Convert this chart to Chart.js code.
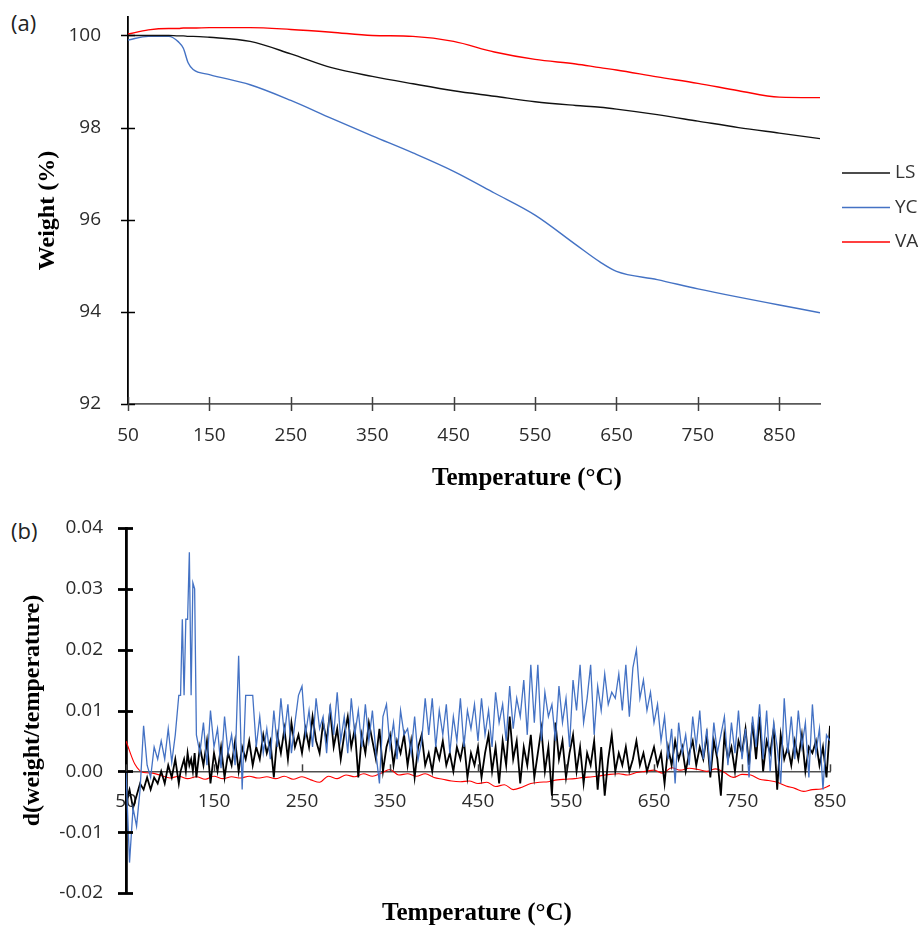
<!DOCTYPE html>
<html>
<head>
<meta charset="utf-8">
<script src="https://cdn.jsdelivr.net/npm/chart.js@4.4.0/dist/chart.umd.min.js"></script>
<style>
body { margin: 0; background: #fff; width: 924px; height: 927px; position: relative; overflow: hidden; }
canvas { position: absolute; left: 0; }
#chartA { top: 0; }
#chartB { top: 500px; }
.tag { position: absolute; left: 11px; font: 22px "Open Sans", sans-serif; color: #222; line-height: 26px; }
.xtitle { position: absolute; width: 300px; text-align: center;
  font: bold 25px "Liberation Serif", "Times New Roman", serif; line-height: 28px; color: #000; }
</style>
</head>
<body>
<div class="tag" style="top:9px">(a)</div>
<div class="tag" style="top:517px">(b)</div>
<canvas id="chartA" width="924" height="500"></canvas>
<canvas id="chartB" width="924" height="427"></canvas>
<div class="xtitle" style="left:377px; top:463px">Temperature (°C)</div>
<div class="xtitle" style="left:327px; top:898px">Temperature (°C)</div>
<script>
// (a) TGA weight curves
var tgaTemp = [50, 75, 100, 112, 118, 124, 130, 150, 200, 250, 300, 350, 400, 450, 500, 550, 600, 630, 650, 700, 750, 800, 850, 900];
var tgaLS = [100.0, 100.0, 100.0, 99.99, 99.99, 99.98, 99.98, 99.96, 99.87, 99.6, 99.3, 99.11, 98.95, 98.8, 98.68, 98.56, 98.48, 98.44, 98.4, 98.28, 98.14, 98.0, 97.88, 97.76];
var tgaYC = [99.9, 99.98, 99.98, 99.86, 99.72, 99.4, 99.26, 99.15, 98.93, 98.59, 98.2, 97.82, 97.45, 97.05, 96.58, 96.1, 95.46, 95.08, 94.88, 94.7, 94.5, 94.32, 94.15, 93.98];
var tgaVA = [100.03, 100.12, 100.15, 100.15, 100.16, 100.16, 100.16, 100.17, 100.17, 100.13, 100.07, 100.0, 99.98, 99.87, 99.64, 99.48, 99.38, 99.3, 99.25, 99.1, 98.96, 98.8, 98.66, 98.65];
var tempTicksA = [50, 150, 250, 350, 450, 550, 650, 750, 850];
var weightTicks = [92, 94, 96, 98, 100];

// (b) DTG curves
var dtgTemp = [50, 54, 58, 62, 66, 70, 74, 78, 82, 86,
  90, 94, 98, 102, 106, 110, 112, 114, 116, 118, 120, 122, 124, 126, 128,
  130, 134, 138, 142, 146, 150, 154, 158, 162, 166,
  170, 174, 178, 182, 186, 190, 194, 198, 202, 206,
  210, 214, 218, 222, 226, 230, 234, 238, 242, 246,
  250, 254, 258, 262, 266, 270, 274, 278, 282, 286,
  290, 294, 298, 302, 306, 310, 314, 318, 322, 326,
  330, 334, 338, 342, 346, 350, 354, 358, 362, 366,
  370, 374, 378, 382, 386, 390, 394, 398, 402, 406,
  410, 414, 418, 422, 426, 430, 434, 438, 442, 446,
  450, 454, 458, 462, 466, 470, 474, 478, 482, 486,
  490, 494, 498, 502, 506, 510, 514, 518, 522, 526,
  530, 534, 538, 542, 546, 550, 554, 558, 562, 566,
  570, 574, 578, 582, 586, 590, 594, 598, 602, 606,
  610, 614, 618, 622, 626, 630, 634, 638, 642, 646,
  650, 654, 658, 662, 666, 670, 674, 678, 682, 686,
  690, 694, 698, 702, 706, 710, 714, 718, 722, 726,
  730, 734, 738, 742, 746, 750, 754, 758, 762, 766,
  770, 774, 778, 782, 786, 790, 794, 798, 802, 806,
  810, 814, 818, 822, 826, 830, 834, 838, 842, 846,
  850];
var dtgYC = [0.000, -0.015, -0.006, -0.009, -0.003, 0.0075, 0.001, -0.001, 0.004, 0.002,
  0.005, 0.002, 0.007, 0.0015, 0.006, 0.0125, 0.0125, 0.025, 0.0125, 0.025, 0.025, 0.036, 0.0125, 0.031, 0.030,
  0.006, 0.003, 0.008, 0.001, 0.010, 0.004, 0.007, 0.0005, 0.009, 0.003,
  0.006, 0.001, 0.019, -0.003, 0.0125, 0.0125, 0.0125, 0.004, 0.009, 0.003,
  0.007, 0.002, 0.010, 0.004, 0.012, 0.006, 0.011, 0.003, 0.008, 0.0125,
  0.014, 0.006, 0.010, 0.004, 0.012, 0.007, 0.009, 0.003, 0.011, 0.006,
  0.013, 0.005, 0.009, 0.003, 0.012, 0.006, 0.010, 0.004, 0.011, 0.005,
  0.010, 0.003, -0.002, 0.009, 0.011, 0.004, 0.008, 0.002, 0.010, 0.006,
  0.007, 0.003, 0.009, 0.002, 0.005, 0.012, 0.006, 0.012, 0.004, 0.010,
  0.006, 0.011, 0.003, 0.009, 0.005, 0.012, 0.004, 0.010, 0.007, 0.011,
  0.005, 0.012, 0.006, 0.010, 0.004, 0.013, 0.008, 0.011, 0.005, 0.014,
  0.007, 0.012, 0.009, 0.015, 0.006, 0.0175, 0.008, 0.0175, 0.005, 0.013,
  0.009, 0.011, 0.005, 0.014, 0.008, 0.012, 0.004, 0.015, 0.010, 0.0175,
  0.008, 0.012, 0.0175, 0.006, 0.014, 0.010, 0.016, 0.011, 0.013, 0.012,
  0.016, 0.010, 0.0175, 0.009, 0.017, 0.020, 0.012, 0.015, 0.010, 0.013,
  0.008, 0.011, 0.005, 0.009, 0.002, 0.007, -0.002, 0.008, 0.003, 0.006,
  0.001, 0.009, 0.004, 0.010, 0.002, 0.007, 0.000, 0.008, 0.003, 0.006,
  0.009, 0.001, 0.008, 0.003, 0.010, 0.002, 0.007, -0.001, 0.009, 0.004,
  0.011, 0.002, 0.010, 0.000, 0.008, 0.004, -0.002, 0.012, 0.003, 0.009,
  0.002, 0.010, 0.004, 0.008, -0.001, 0.011, 0.003, 0.007, -0.003, 0.006,
  0.005];
var dtgLS = [-0.005, -0.003, -0.006, -0.004, -0.002, -0.003, -0.001, -0.003, -0.001, -0.002,
  0.000, -0.002, 0.001, -0.001, 0.002, -0.002, 0.000, 0.001, 0.002, 0.000, 0.003, 0.001, 0.002, 0.000, 0.003,
  -0.001, 0.004, 0.001, 0.005, -0.002, 0.003, 0.000, 0.004, -0.001, 0.003,
  0.001, 0.005, 0.000, 0.004, 0.002, 0.005, 0.001, 0.004, 0.002, 0.006,
  0.003, 0.005, -0.001, 0.006, 0.003, 0.007, 0.002, 0.008, 0.004, 0.006,
  0.003, 0.007, 0.004, 0.009, 0.005, 0.003, 0.008, 0.005, 0.010, 0.004,
  0.007, 0.002, 0.006, 0.009, 0.004, 0.007, -0.001, 0.006, 0.003, 0.008,
  0.005, 0.002, 0.007, 0.000, 0.004, 0.006, 0.001, 0.005, 0.003, 0.006,
  0.001, 0.005, -0.001, 0.004, 0.006, 0.001, 0.003, 0.000, 0.004, 0.002,
  0.005, 0.001, 0.003, 0.000, 0.004, 0.002, 0.005, -0.001, 0.003, 0.001,
  0.004, -0.001, 0.003, 0.006, 0.000, 0.004, -0.002, 0.005, 0.001, 0.009,
  0.002, 0.005, -0.002, 0.004, 0.001, 0.006, -0.001, 0.003, 0.007, 0.000,
  0.004, -0.004, 0.008, 0.002, 0.005, -0.001, 0.003, 0.006, 0.000, 0.004,
  -0.002, 0.003, 0.001, 0.005, -0.003, 0.004, -0.004, 0.002, 0.006, 0.000,
  0.003, 0.001, 0.004, 0.000, 0.002, 0.005, 0.001, 0.003, 0.000, 0.002,
  0.004, 0.001, 0.003, -0.002, 0.004, 0.001, 0.005, 0.002, 0.004, 0.000,
  0.003, 0.005, 0.001, 0.004, 0.002, 0.006, -0.001, 0.005, 0.002, -0.004,
  0.006, 0.002, 0.004, 0.000, 0.005, 0.003, 0.007, 0.001, 0.008, 0.002,
  0.009, 0.000, 0.005, 0.003, 0.007, -0.003, 0.006, 0.002, 0.004, 0.001,
  0.005, 0.002, 0.006, 0.000, 0.004, 0.003, 0.005, 0.001, 0.004, -0.001,
  0.0075];
var dtgTempVA = [50, 60, 70, 80, 90, 100, 110, 120, 130, 140,
  150, 160, 170, 180, 190, 200, 210, 220, 230, 240,
  250, 260, 270, 280, 290, 300, 310, 320, 330, 340,
  350, 360, 370, 380, 390, 400, 410, 420, 430, 440,
  450, 460, 470, 480, 490, 500, 510, 520, 530, 540,
  550, 560, 570, 580, 590, 600, 610, 620, 630, 640,
  650, 660, 670, 680, 690, 700, 710, 720, 730, 740,
  750, 760, 770, 780, 790, 800, 810, 820, 830, 840,
  850];
var dtgVA = [0.005, 0.0012, -0.0002, -0.0003, -0.0007, -0.0011, -0.0008, -0.0012, -0.0009, -0.0013,
  -0.0008, -0.0012, -0.0009, -0.0011, -0.0008, -0.0011, -0.0009, -0.0012, -0.0008, -0.0013,
  -0.0009, -0.0014, -0.0018, -0.0008, -0.0012, -0.0006, -0.0009, -0.0004, -0.0008, -0.0003,
  0.0003, -0.0006, -0.0004, -0.0008, -0.0004, -0.0010, -0.0013, -0.0016, -0.0017, -0.0016,
  -0.0020, -0.0018, -0.0025, -0.0022, -0.0030, -0.0026, -0.0020, -0.0018, -0.0017, -0.0014,
  -0.0013, -0.0012, -0.0010, -0.0009, -0.0007, -0.0005, -0.0004, -0.0006, -0.0002, 0.0000,
  0.0002, -0.0003, 0.0006, 0.0002, 0.0005, 0.0003, 0.0000, 0.0004, -0.0002, -0.0010,
  -0.0005, -0.0006, -0.0013, -0.0015, -0.0018, -0.0024, -0.0028, -0.0033, -0.0030, -0.0029,
  -0.0023];
var tempTicksB = [50, 150, 250, 350, 450, 550, 650, 750, 850];
var dtgTicks = [-0.02, -0.01, 0.00, 0.01, 0.02, 0.03, 0.04];

var tickFont = { family: "'Open Sans', sans-serif", size: 19 };
var titleFont = { family: "'Liberation Serif', 'Times New Roman', serif", size: 24, weight: 'bold' };
var blue = '#4472C4';
var red = '#FF0000';

function pts(xs, ys) {
    return xs.map(function(x, i) { return { x: x, y: ys[i] }; });
}
function noPadY(s, w) { s.width = w; s.paddingTop = 0; s.paddingBottom = 0; }

// short tick marks that cross the axis lines
var crossTicks = {
    id: 'crossTicks',
    afterDraw: function(chart, args, opts) {
        var ctx = chart.ctx;
        var xs = chart.scales.x, ys = chart.scales.y;
        var axisY = opts.xAt != null ? ys.getPixelForValue(opts.xAt) : ys.bottom;
        var axisX = ys.right;
        ctx.save();
        ctx.lineWidth = opts.yWidth;
        ctx.strokeStyle = opts.yColor;
        ys.ticks.forEach(function(t) {
            var py = Math.round(ys.getPixelForValue(t.value)) + 0.5;
            ctx.beginPath();
            ctx.moveTo(axisX - opts.yOut, py);
            ctx.lineTo(axisX + opts.yIn, py);
            ctx.stroke();
        });
        ctx.lineWidth = opts.xWidth;
        ctx.strokeStyle = opts.xColor;
        xs.ticks.forEach(function(t) {
            var px = Math.round(xs.getPixelForValue(t.value)) + 0.5;
            ctx.beginPath();
            ctx.moveTo(px, axisY - opts.xUp);
            ctx.lineTo(px, axisY + opts.xDown);
            ctx.stroke();
        });
        ctx.restore();
    }
};

var sideLegend = {
    id: 'sideLegend',
    afterDraw: function(chart, args, opts) {
        var ctx = chart.ctx;
        ctx.save();
        ctx.font = "19px 'Open Sans', sans-serif";
        ctx.textBaseline = 'middle';
        chart.data.datasets.forEach(function(ds, i) {
            var y = opts.top + i * opts.gap;
            ctx.strokeStyle = ds.borderColor;
            ctx.lineWidth = 1.5;
            ctx.beginPath();
            ctx.moveTo(opts.left, y);
            ctx.lineTo(opts.left + opts.lineLen, y);
            ctx.stroke();
            ctx.fillStyle = '#333';
            ctx.fillText(ds.label, opts.left + opts.lineLen + 5, y);
        });
        ctx.restore();
    }
};

new Chart(document.getElementById('chartA'), {
    type: 'line',
    data: {
        datasets: [
            { label: 'LS', data: pts(tgaTemp, tgaLS), borderColor: '#111', borderWidth: 1.4 },
            { label: 'YC', data: pts(tgaTemp, tgaYC), borderColor: blue, borderWidth: 1.4 },
            { label: 'VA', data: pts(tgaTemp, tgaVA), borderColor: red, borderWidth: 1.4 }
        ]
    },
    options: {
        responsive: false,
        animation: false,
        layout: { padding: { top: 17, right: 104, bottom: 0, left: 0 } },
        elements: { point: { radius: 0 }, line: { cubicInterpolationMode: 'monotone' } },
        plugins: {
            legend: { display: false },
            tooltip: { enabled: false },
            sideLegend: { left: 842, top: 173, gap: 34.5, lineLen: 48 },
            crossTicks: { yOut: 7, yIn: 7, xUp: 7, xDown: 7, yWidth: 1.5, xWidth: 1.5, yColor: '#000', xColor: '#404040' }
        },
        scales: {
            x: {
                type: 'linear', min: 50, max: 900,
                grid: { display: false },
                border: { color: '#595959', width: 1.8 },
                afterBuildTicks: function(s) { s.ticks = tempTicksA.map(function(v) { return { value: v }; }); },
                afterFit: function(s) { s.height = 96; s.paddingLeft = 0; s.paddingRight = 0; },
                ticks: { font: tickFont, color: '#2b2b2b', padding: 12, maxRotation: 0, autoSkip: false }
            },
            y: {
                min: 92, max: 100.4,
                grid: { display: false },
                border: { color: '#000', width: 1.8 },
                afterBuildTicks: function(s) { s.ticks = weightTicks.map(function(v) { return { value: v }; }); },
                afterFit: function(s) { noPadY(s, 128); },
                ticks: { font: tickFont, color: '#2b2b2b', padding: 19, callback: function(v) { return String(v); } },
                title: { display: true, text: 'Weight (%)', font: titleFont, color: '#000', padding: { top: 33, bottom: 0 } }
            }
        }
    },
    plugins: [crossTicks, sideLegend]
});

new Chart(document.getElementById('chartB'), {
    type: 'line',
    data: {
        datasets: [
            { label: 'YC', data: pts(dtgTemp, dtgYC), borderColor: blue, borderWidth: 1.3 },
            { label: 'LS', data: pts(dtgTemp, dtgLS), borderColor: '#000', borderWidth: 1.8 },
            { label: 'VA', data: pts(dtgTempVA, dtgVA), borderColor: red, borderWidth: 1.1, cubicInterpolationMode: 'monotone' }
        ]
    },
    options: {
        responsive: false,
        animation: false,
        layout: { padding: { top: 28, right: 94, bottom: 34, left: 0 } },
        elements: { point: { radius: 0 }, line: { tension: 0 } },
        plugins: {
            legend: { display: false },
            tooltip: { enabled: false },
            crossTicks: { xAt: 0, yOut: 8, yIn: 7, xUp: 7, xDown: 0, yWidth: 2.8, xWidth: 1.5, yColor: '#000', xColor: '#404040' }
        },
        scales: {
            x: {
                type: 'linear', min: 50, max: 850,
                position: { y: 0 },
                grid: { display: false },
                border: { color: '#505050', width: 1.6 },
                afterBuildTicks: function(s) { s.ticks = tempTicksB.map(function(v) { return { value: v }; }); },
                afterFit: function(s) { s.paddingLeft = 0; s.paddingRight = 0; },
                ticks: { font: tickFont, color: '#2b2b2b', padding: 11, maxRotation: 0, autoSkip: false }
            },
            y: {
                min: -0.02, max: 0.04,
                grid: { display: false },
                border: { color: '#000', width: 2.8 },
                afterBuildTicks: function(s) { s.ticks = dtgTicks.map(function(v) { return { value: v }; }); },
                afterFit: function(s) { noPadY(s, 126); },
                ticks: { font: tickFont, color: '#2b2b2b', padding: 15, callback: function(v) { return v.toFixed(2); } },
                title: { display: true, text: 'd(weight/temperature)', font: titleFont, color: '#000', padding: { top: 18, bottom: 0 } }
            }
        }
    },
    plugins: [crossTicks]
});
</script>
</body>
</html>
